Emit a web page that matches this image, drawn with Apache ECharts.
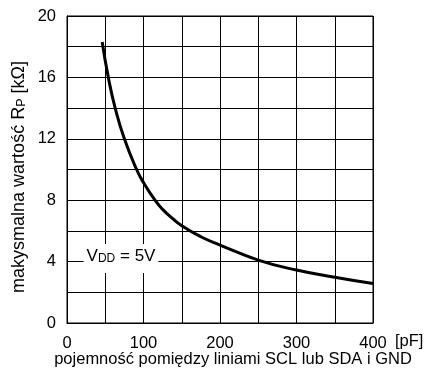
<!DOCTYPE html>
<html><head><meta charset="utf-8">
<script src="https://cdn.jsdelivr.net/npm/echarts@6/dist/echarts.min.js"></script>
<style>html,body{margin:0;padding:0;background:#fff}#c{width:433px;height:371px}</style>
</head><body><div id="c"></div>
<script>
const capacitance = [46, 54, 63, 75, 91, 100, 115, 125, 137, 150, 175, 200, 250, 300, 350, 400];
const resistance = [18.3, 16, 14, 12, 10, 9.15, 8, 7.4, 6.85, 6.33, 5.62, 5.08, 4.1, 3.45, 2.98, 2.57];
const xTickLabels = ['0', '100', '200', '300', '400'];
const yTickLabels = ['0', '4', '8', '12', '16', '20'];
const xAxisTitle = 'pojemność pomiędzy liniami SCL lub SDA i GND';
const xUnit = '[pF]';

const FONT = '"Liberation Sans", Arial, Helvetica, sans-serif';
const chart = echarts.init(document.getElementById('c'), null, {renderer: 'canvas'});
const pts = capacitance.map((c, i) => [c, resistance[i]]);

chart.setOption({
  animation: false,
  backgroundColor: '#fff',
  grid: {left: 67, right: 60, top: 16, bottom: 48, show: true, borderColor: '#000', borderWidth: 1,
         containLabel: false, outerBoundsMode: 'none'},
  xAxis: {
    type: 'value', min: 0, max: 400, interval: 50,
    axisLine: {show: true, lineStyle: {color: '#000', width: 1}},
    axisTick: {show: false},
    splitLine: {show: true, lineStyle: {color: '#000', width: 1}},
    axisLabel: {
      color: '#000', fontFamily: FONT, fontSize: 16.5, margin: 12,
      formatter: v => xTickLabels.includes(String(v)) ? String(v) : ''
    },
    name: xAxisTitle, nameLocation: 'middle', nameGap: 28, nameMoveOverlap: false,
    nameTextStyle: {color: '#000', fontFamily: FONT, fontSize: 16.5, padding: [0, 0, 0, 26]}
  },
  yAxis: {
    type: 'value', min: 0, max: 20, interval: 2,
    axisLine: {show: true, lineStyle: {color: '#000', width: 1}},
    axisTick: {show: false},
    splitLine: {show: true, lineStyle: {color: '#000', width: 1}},
    axisLabel: {
      color: '#000', fontFamily: FONT, fontSize: 16.5, margin: 11,
      formatter: v => yTickLabels.includes(String(v)) ? String(v) : ''
    }
  },
  graphic: [
    {
      type: 'text', x: 19, y: 177, rotation: Math.PI / 2, z: 100,
      style: {
        text: '{a|makysmalna wartość R}{b|P}{a| [kΩ]}',
        align: 'center', verticalAlign: 'middle',
        rich: {
          a: {fontFamily: FONT, fontSize: 18, fill: '#000', color: '#000', verticalAlign: 'bottom'},
          b: {fontFamily: FONT, fontSize: 12.5, fill: '#000', color: '#000', verticalAlign: 'bottom'}
        }
      }
    },
    {
      type: 'text', x: 395, y: 341, z: 100,
      style: {text: xUnit, fontFamily: FONT, fontSize: 16.5, fill: '#000', align: 'left', verticalAlign: 'middle'}
    },
    {
      type: 'text', x: 121, y: 258.5, z: 100,
      style: {
        text: '{v|V}{d|DD}{v| = 5V}',
        align: 'center', verticalAlign: 'middle',
        backgroundColor: '#fff', padding: [4, 3, 8, 3],
        rich: {
          v: {fontFamily: FONT, fontSize: 17, fill: '#000', color: '#000', verticalAlign: 'bottom'},
          d: {fontFamily: FONT, fontSize: 12, fill: '#000', color: '#000', verticalAlign: 'bottom'}
        }
      }
    }
  ],
  series: [{
    type: 'line', data: pts, smooth: 0.5, showSymbol: false,
    lineStyle: {color: '#000', width: 3}, z: 10
  }]
});
</script></body></html>
